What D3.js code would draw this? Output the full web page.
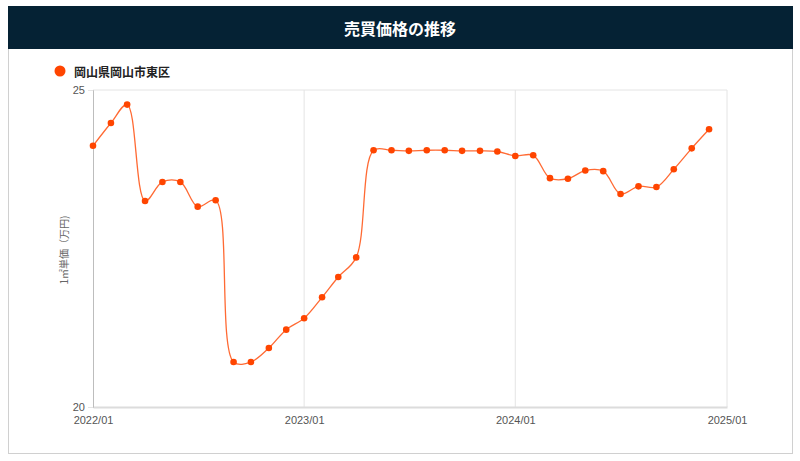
<!DOCTYPE html>
<html>
<head>
<meta charset="utf-8">
<script src="https://cdn.jsdelivr.net/npm/d3@7"></script>
<style>
  body { margin: 0; background: #fff; font-family: "Noto Sans CJK JP", "Noto Sans", sans-serif; }
  svg { display: block; }
</style>
</head>
<body>
<div id="chart"></div>
<script>
// Chart data
const title = "売買価格の推移";
const seriesName = "岡山県岡山市東区";
const yTitle = "1㎡単価（万円)";
const months = [
  "2022/01","2022/02","2022/03","2022/04","2022/05","2022/06","2022/07","2022/08","2022/09","2022/10","2022/11","2022/12",
  "2023/01","2023/02","2023/03","2023/04","2023/05","2023/06","2023/07","2023/08","2023/09","2023/10","2023/11","2023/12",
  "2024/01","2024/02","2024/03","2024/04","2024/05","2024/06","2024/07","2024/08","2024/09","2024/10","2024/11","2024/12"
];
const prices = [
  24.12, 24.48, 24.77, 23.25, 23.55, 23.55, 23.16, 23.26, 20.71, 20.71, 20.93, 21.22,
  21.40, 21.73, 22.05, 22.36, 24.05, 24.05, 24.04, 24.05, 24.05, 24.04, 24.04, 24.03,
  23.96, 23.97, 23.61, 23.60, 23.73, 23.72, 23.36, 23.48, 23.47, 23.75, 24.08, 24.38
];
const xTicks = ["2022/01", "2023/01", "2024/01", "2025/01"];
const yTicks = [20, 25];

const parseMonth = d3.timeParse("%Y/%m");
const data = months.map((m, i) => ({ date: parseMonth(m), value: prices[i] }));

const W = 800, H = 461;
const margin = { top: 90, right: 73, bottom: 54, left: 93 };
const width = W - margin.left - margin.right;
const height = H - margin.top - margin.bottom;

const svg = d3.select("#chart").append("svg")
    .attr("width", W)
    .attr("height", H);

// Outer frame and header
svg.append("rect")
    .attr("x", 8.5).attr("y", 6.5)
    .attr("width", 784).attr("height", 447)
    .attr("fill", "#fff")
    .attr("stroke", "#d0d0d0");

svg.append("rect")
    .attr("x", 8).attr("y", 6)
    .attr("width", 785).attr("height", 43)
    .attr("fill", "#052234");

svg.append("text")
    .attr("x", 400).attr("y", 28)
    .attr("text-anchor", "middle")
    .attr("dominant-baseline", "central")
    .attr("fill", "#fff")
    .attr("font-size", 16)
    .attr("font-weight", "bold")
    .text(title);

// Legend
svg.append("circle")
    .attr("cx", 60).attr("cy", 71).attr("r", 5.5)
    .attr("fill", "#ff4500");

svg.append("text")
    .attr("x", 74).attr("y", 71)
    .attr("dominant-baseline", "central")
    .attr("font-size", 12)
    .attr("font-weight", "bold")
    .attr("fill", "#222")
    .text(seriesName);

const g = svg.append("g")
    .attr("transform", "translate(" + margin.left + "," + margin.top + ")");

// Scales
const x = d3.scaleTime()
    .domain([parseMonth(xTicks[0]), parseMonth(xTicks[xTicks.length - 1])])
    .range([0, width]);

const y = d3.scaleLinear()
    .domain([20, 25])
    .range([height, 0]);

// Gridlines
g.append("g")
    .selectAll("line.vgrid")
    .data(xTicks.slice(1))
    .join("line")
    .attr("x1", d => x(parseMonth(d))).attr("x2", d => x(parseMonth(d)))
    .attr("y1", 0).attr("y2", height)
    .attr("stroke", "#e4e4e4");

g.append("line")
    .attr("x1", 0).attr("x2", width)
    .attr("y1", y(25)).attr("y2", y(25))
    .attr("stroke", "#e4e4e4");

// Axes
const xAxis = d3.axisBottom(x)
    .tickValues(xTicks.map(parseMonth))
    .tickFormat(d3.timeFormat("%Y/%m"))
    .tickSize(0)
    .tickPadding(9);

const yAxis = d3.axisLeft(y)
    .tickValues(yTicks)
    .tickFormat(d3.format("d"))
    .tickSize(5)
    .tickPadding(3);

g.append("g")
    .attr("class", "x-axis")
    .attr("transform", "translate(0," + height + ")")
    .call(xAxis)
    .call(ax => ax.select(".domain").attr("stroke", "#dcdcdc").attr("stroke-width", 2))
    .call(ax => ax.selectAll("text").attr("fill", "#555").attr("font-size", 11)
        .attr("font-family", "Liberation Sans, Arial, sans-serif"));

g.append("g")
    .attr("class", "y-axis")
    .call(yAxis)
    .call(ax => ax.select(".domain").attr("stroke", "#bdbdbd"))
    .call(ax => ax.selectAll(".tick line").attr("stroke", "#e4e4e4"))
    .call(ax => ax.selectAll("text").attr("fill", "#555").attr("font-size", 11)
        .attr("font-family", "Liberation Sans, Arial, sans-serif"));

// Y axis title
svg.append("text")
    .attr("transform", "translate(63,250) rotate(-90)")
    .attr("text-anchor", "middle")
    .attr("dominant-baseline", "central")
    .attr("font-size", 10)
    .attr("fill", "#666")
    .text(yTitle);

// Line
const line = d3.line()
    .x(d => x(d.date))
    .y(d => y(d.value))
    .curve(d3.curveCatmullRom.alpha(0.5));

g.append("path")
    .datum(data)
    .attr("fill", "none")
    .attr("stroke", "#ff4500")
    .attr("stroke-opacity", 0.8)
    .attr("stroke-width", 1.3)
    .attr("d", line);

g.selectAll("circle.pt")
    .data(data)
    .join("circle")
    .attr("class", "pt")
    .attr("cx", d => x(d.date))
    .attr("cy", d => y(d.value))
    .attr("r", 3.3)
    .attr("fill", "#ff4500");
</script>
</body>
</html>
